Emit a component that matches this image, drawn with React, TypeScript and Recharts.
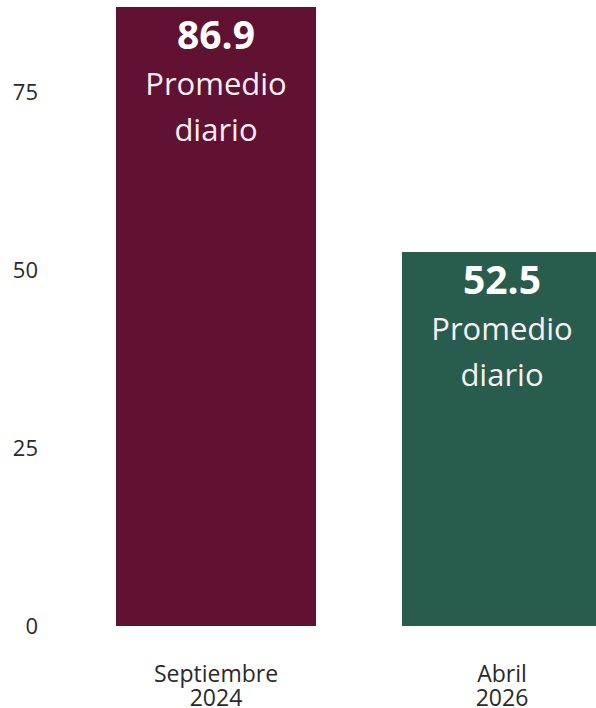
import { BarChart, Bar, XAxis, YAxis, Cell, LabelList } from "recharts";

const categories = ["Septiembre 2024", "Abril 2026"];
const values = [86.9, 52.5];
const barColors = ["#611232", "#285c4d"];
const yTicks = [0, 25, 50, 75];
const subLabel = ["Promedio", "diario"];

const data = categories.map((name, i) => ({ name, value: values[i] }));

const FONT = "'Open Sans', sans-serif";

function CategoryTick(props: any) {
  const { x, y, payload } = props;
  const [month, year] = String(payload.value).split(" ");
  return (
    <text
      x={x}
      y={y + 56}
      textAnchor="middle"
      fill="#2a2a2a"
      fontSize={23}
      fontFamily={FONT}
    >
      <tspan x={x}>{month}</tspan>
      <tspan x={x} dy={24}>
        {year}
      </tspan>
    </text>
  );
}

function BarLabel(props: any) {
  const { x, y, width, value } = props;
  const cx = x + width / 2;
  return (
    <g fontFamily={FONT} textAnchor="middle">
      <text x={cx} y={y + 42} fill="#fff" fontSize={39} fontWeight={700}>
        {value}
      </text>
      <text x={cx} y={y + 88} fill="#f8eef2" fontSize={31}>
        {subLabel[0]}
      </text>
      <text x={cx} y={y + 134} fill="#f8eef2" fontSize={31}>
        {subLabel[1]}
      </text>
    </g>
  );
}

export default function App() {
  return (
    <div
      style={{
        position: "absolute",
        left: 0,
        top: 0,
        width: 596,
        height: 708,
        overflow: "hidden",
        background: "#fff",
        fontFamily: FONT,
      }}
    >
      <BarChart
        width={645}
        height={708}
        data={data}
        margin={{ top: 7, right: 0, bottom: 0, left: 0 }}
      >
        <XAxis
          dataKey="name"
          height={82}
          axisLine={false}
          tickLine={false}
          tickSize={0}
          tickMargin={0}
          tick={<CategoryTick />}
          interval={0}
        />
        <YAxis
          width={73}
          domain={[0, "dataMax"]}
          ticks={yTicks}
          axisLine={false}
          tickLine={false}
          tickSize={0}
          tickMargin={35}
          tick={{ fill: "#2a2a2a", fontSize: 22, fontFamily: FONT }}
        />
        <Bar dataKey="value" barSize={200} isAnimationActive={false}>
          {data.map((_, i) => (
            <Cell key={i} fill={barColors[i]} />
          ))}
          <LabelList dataKey="value" content={<BarLabel />} />
        </Bar>
      </BarChart>
    </div>
  );
}
